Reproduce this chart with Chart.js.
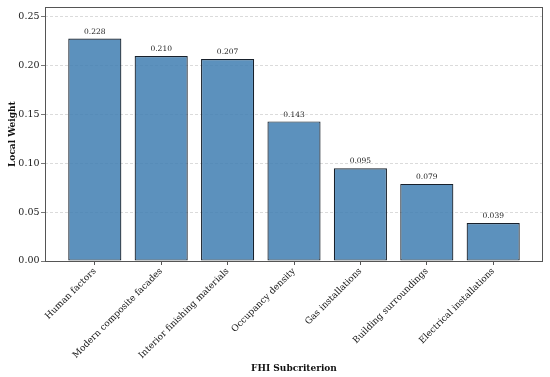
<!DOCTYPE html>
<html>
<head>
<meta charset="utf-8">
<script src="https://cdn.jsdelivr.net/npm/chart.js@4.4.0/dist/chart.umd.min.js"></script>
<style>
html,body{margin:0;padding:0;background:#fff;}
#wrap{width:550px;height:377px;}
</style>
</head>
<body>
<div id="wrap"><canvas id="c" width="550" height="377"></canvas></div>
<script>
const categories = ["Human factors","Modern composite facades","Interior finishing materials","Occupancy density","Gas installations","Building surroundings","Electrical installations"];
const weights = [0.228,0.210,0.207,0.143,0.095,0.079,0.039];
const yTicks = [0.00,0.05,0.10,0.15,0.20,0.25];

const FONT = "'DejaVu Serif', serif";

const valueLabels = {
  id: 'valueLabels',
  afterDatasetsDraw(chart) {
    const ctx = chart.ctx;
    const meta = chart.getDatasetMeta(0);
    ctx.save();
    ctx.font = "7.5px " + FONT;
    ctx.fillStyle = '#1a1a1a';
    ctx.textAlign = 'center';
    ctx.textBaseline = 'bottom';
    meta.data.forEach((bar, i) => {
      ctx.fillText(weights[i].toFixed(3), bar.x, bar.y - 3);
    });
    ctx.restore();
  }
};
const frame = {
  id: 'frame',
  afterDraw(chart) {
    const a = chart.chartArea, ctx = chart.ctx;
    ctx.save();
    ctx.strokeStyle = '#555';
    ctx.lineWidth = 1;
    ctx.strokeRect(Math.round(a.left) + 0.5, Math.round(a.top) + 0.5, Math.round(a.right - a.left) - 1, Math.round(a.bottom - a.top));
    ctx.restore();
  }
};

new Chart(document.getElementById('c'), {
  type: 'bar',
  data: {
    datasets: [{
      data: weights.map((v, i) => ({x: i, y: v})),
      backgroundColor: 'rgba(70,130,180,0.88)',
      borderColor: '#17202b',
      borderWidth: 1.2,
      borderSkipped: false,
      barPercentage: 0.8,
      categoryPercentage: 1.0
    }]
  },
  options: {
    responsive: false,
    animation: false,
    devicePixelRatio: 1,
    layout: {padding: {left: 0, right: 7, top: 5, bottom: 0}},
    plugins: {legend: {display: false}, tooltip: {enabled: false}},
    scales: {
      x: {
        type: 'linear',
        offset: false,
        min: -0.75,
        max: 6.75,
        afterBuildTicks(axis) { axis.ticks = categories.map((_, i) => ({value: i})); },
        afterFit(axis) { axis.height = 116; axis.paddingLeft = 0; axis.paddingRight = 0; },
        ticks: {
          autoSkip: false,
          minRotation: 45,
          maxRotation: 45,
          padding: 1,
          font: {family: FONT, size: 9},
          color: '#1a1a1a',
          callback: (v) => categories[v] !== undefined ? categories[v] : ''
        },
        grid: {offset: false, drawOnChartArea: false, drawTicks: true, tickLength: 4, tickColor: '#555'},
        border: {display: false},
        title: {display: true, text: 'FHI Subcriterion', font: {family: FONT, size: 9, weight: 'bold'}, color: '#111', padding: {top: 0, bottom: 3}}
      },
      y: {
        min: 0,
        max: 0.26,
        afterBuildTicks(axis) { axis.ticks = yTicks.map(v => ({value: v})); },
        afterFit(axis) { axis.width = 45; },
        ticks: {
          padding: 1.5,
          font: {family: FONT, size: 9.5},
          color: '#1a1a1a',
          callback: (v) => Number(v).toFixed(2)
        },
        grid: {color: '#d2d2d2', lineWidth: 0.8, drawTicks: true, tickLength: 4, tickColor: '#555'},
        border: {display: false, dash: [3, 2]},
        title: {display: true, text: 'Local Weight', font: {family: FONT, size: 9, weight: 'bold'}, color: '#111', padding: {top: 7, bottom: 0}}
      }
    }
  },
  plugins: [valueLabels, frame]
});
</script>
</body>
</html>
